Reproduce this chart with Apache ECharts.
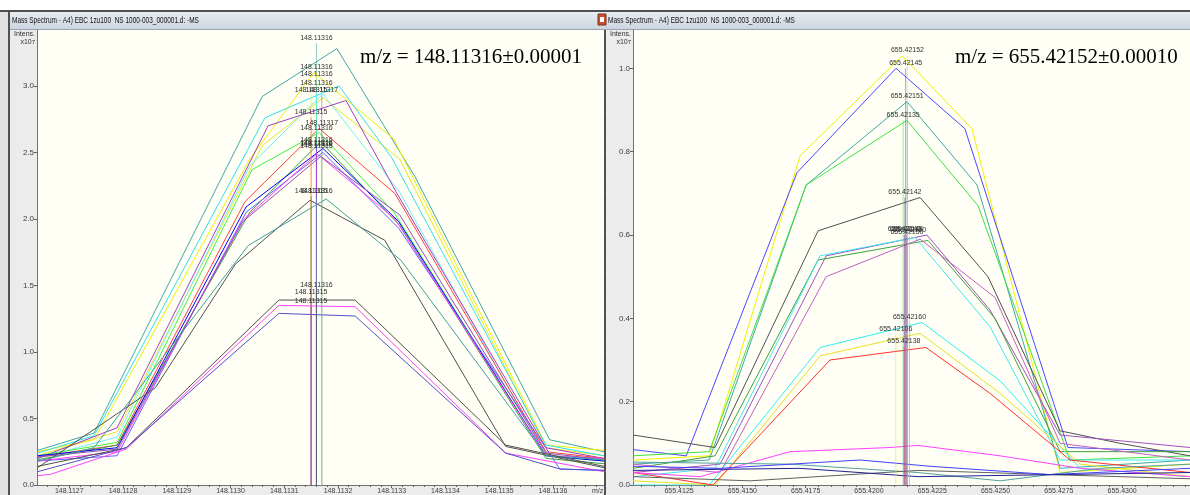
<!DOCTYPE html>
<html>
<head>
<meta charset="utf-8">
<script src="https://cdn.jsdelivr.net/npm/echarts@6/dist/echarts.min.js"></script>
<style>
html, body { margin: 0; padding: 0; background: #fff; }
#chart { width: 1190px; height: 495px; }
</style>
</head>
<body>
<div id="chart"></div>
<script>
// tick labels
const leftXTicks = [148.1127, 148.1128, 148.1129, 148.1130, 148.1131, 148.1132, 148.1133, 148.1134, 148.1135, 148.1136]
const leftYTicks = [0, 0.5, 1.0, 1.5, 2.0, 2.5, 3.0]
const rightXTicks = [655.4125, 655.4150, 655.4175, 655.4200, 655.4225, 655.4250, 655.4275, 655.4300]
const rightYTicks = [0, 0.2, 0.4, 0.6, 0.8, 1.0]

// left panel profiles, [m/z, intensity x10^7]
const lTeal = [[148.112641,0.26],[148.112746,0.39],[148.113059,2.92],[148.113198,3.28],[148.113343,2.32],[148.113594,0.34],[148.113695,0.25]]
const lYellow = [[148.112641,0.25],[148.112746,0.34],[148.113036,2.45],[148.113155,3.10],[148.113304,2.60],[148.113587,0.30],[148.113695,0.26]]
const lYellow2 = [[148.112641,0.22],[148.112789,0.40],[148.113059,2.55],[148.113172,2.91],[148.113315,2.45],[148.113587,0.28],[148.113695,0.22]]
const lCyan = [[148.112641,0.24],[148.112746,0.37],[148.113064,2.76],[148.113202,3.00],[148.113300,2.46],[148.113587,0.30],[148.113695,0.22]]
const lCyan2 = [[148.112641,0.20],[148.112789,0.36],[148.113036,2.40],[148.113172,2.94],[148.113315,2.20],[148.113587,0.22],[148.113695,0.20]]
const lPurple = [[148.112641,0.20],[148.112789,0.43],[148.113070,2.70],[148.113215,2.89],[148.113310,2.19],[148.113587,0.28],[148.113695,0.20]]
const lRed = [[148.112641,0.21],[148.112789,0.30],[148.113027,2.13],[148.113165,2.68],[148.113306,2.19],[148.113587,0.25],[148.113695,0.20]]
const lGreen = [[148.112641,0.22],[148.112789,0.32],[148.113040,2.37],[148.113165,2.65],[148.113304,2.05],[148.113587,0.22],[148.113695,0.18]]
const lOlive = [[148.112641,0.19],[148.112789,0.30],[148.113036,2.05],[148.113168,2.58],[148.113315,1.95],[148.113587,0.20],[148.113695,0.16]]
const lBlue = [[148.112641,0.22],[148.112789,0.28],[148.113029,2.09],[148.113172,2.53],[148.113313,1.98],[148.113587,0.22],[148.113695,0.18]]
const lBlue2 = [[148.112641,0.18],[148.112789,0.22],[148.113029,2.05],[148.113172,2.50],[148.113313,1.93],[148.113613,0.12],[148.113695,0.11]]
const lMagenta = [[148.112641,0.18],[148.112789,0.25],[148.113023,1.99],[148.113161,2.49],[148.113306,2.00],[148.113587,0.22],[148.113695,0.20]]
const lPurple2 = [[148.112641,0.21],[148.112789,0.27],[148.113023,1.98],[148.113168,2.47],[148.113315,2.03],[148.113587,0.24],[148.113695,0.19]]
const lGrey = [[148.112641,0.13],[148.112860,0.73],[148.113009,1.66],[148.113148,2.14],[148.113287,1.84],[148.113512,0.29],[148.113695,0.13]]
const lTeal2 = [[148.112641,0.18],[148.112746,0.28],[148.113033,1.80],[148.113178,2.15],[148.113317,1.69],[148.113587,0.22],[148.113695,0.19]]
const lGrey2 = [[148.112641,0.14],[148.112806,0.28],[148.113090,1.39],[148.113232,1.39],[148.113512,0.30],[148.113695,0.14]]
const lMagenta2 = [[148.112641,0.07],[148.112665,0.08],[148.112806,0.27],[148.113090,1.35],[148.113232,1.34],[148.113512,0.24],[148.113695,0.10]]
const lSlate = [[148.112641,0.10],[148.112806,0.28],[148.113090,1.29],[148.113232,1.27],[148.113512,0.24],[148.113613,0.12],[148.113695,0.11]]

// left centroids (one per profile)
const leftStickMz = [148.11316,148.11316,148.11315,148.11316,148.11316,148.11317,148.11315,148.11317,148.11316,148.11316,148.11316,148.11316,148.11316,148.11315,148.11316,148.11316,148.11315,148.11315]
const leftStickInt = [3.32,3.10,2.93,2.98,3.05,2.93,2.76,2.68,2.64,2.55,2.53,2.52,2.51,2.17,2.17,1.46,1.41,1.34]

// right panel profiles
const rYellow = [[655.41068,0.06],[655.41369,0.07],[655.41728,0.79],[655.42131,1.03],[655.42407,0.855],[655.42755,0.03],[655.43268,0.05]]
const rBlue = [[655.41068,0.085],[655.41278,0.07],[655.41716,0.75],[655.42107,1.00],[655.42379,0.855],[655.42786,0.09],[655.43268,0.08]]
const rTeal = [[655.41068,0.05],[655.41369,0.06],[655.41752,0.72],[655.42150,0.92],[655.42427,0.72],[655.42755,0.04],[655.43268,0.06]]
const rGreen = [[655.41068,0.07],[655.41369,0.08],[655.41752,0.72],[655.42150,0.875],[655.42431,0.67],[655.42794,0.06],[655.43268,0.07]]
const rGrey = [[655.41068,0.12],[655.41392,0.09],[655.41799,0.61],[655.42202,0.69],[655.42470,0.50],[655.42755,0.13],[655.42992,0.10],[655.43268,0.07]]
const rPurple = [[655.41068,0.03],[655.41412,0.05],[655.41831,0.55],[655.42229,0.60],[655.42478,0.42],[655.42755,0.12],[655.43268,0.09]]
const rOlive = [[655.41068,0.04],[655.41392,0.07],[655.41799,0.54],[655.42233,0.587],[655.42498,0.40],[655.42755,0.08],[655.43268,0.08]]
const rCyan = [[655.41068,0.02],[655.41392,0.04],[655.41807,0.55],[655.42182,0.594],[655.42478,0.38],[655.42755,0.06],[655.43268,0.06]]
const rViolet = [[655.41068,0.05],[655.41412,0.03],[655.41831,0.50],[655.42202,0.59],[655.42498,0.45],[655.42755,0.10],[655.43268,0.06]]
const rCyan2 = [[655.41068,0.0],[655.41369,0.0],[655.41807,0.33],[655.42210,0.39],[655.42518,0.25],[655.42834,0.04],[655.43268,0.02]]
const rYellow2 = [[655.41068,0.01],[655.41392,0.0],[655.41807,0.31],[655.42202,0.364],[655.42518,0.22],[655.42834,0.05],[655.43268,0.02]]
const rRed = [[655.41068,0.03],[655.41384,0.0],[655.41846,0.30],[655.42225,0.33],[655.42478,0.22],[655.42794,0.06],[655.43268,0.03]]
const rMagentaLow = [[655.41068,0.03],[655.41333,0.02],[655.41688,0.08],[655.42083,0.09],[655.42194,0.095],[655.42518,0.07],[655.42834,0.04],[655.43268,0.02]]
const rTealLow = [[655.41068,0.055],[655.41688,0.05],[655.42194,0.03],[655.42518,0.01],[655.42913,0.04],[655.43268,0.05]]
const rGreyLow = [[655.41068,0.02],[655.41530,0.01],[655.42194,0.035],[655.42715,0.025],[655.43268,0.015]]
const rBlueLow = [[655.41068,0.045],[655.41412,0.04],[655.41965,0.06],[655.42241,0.045],[655.42715,0.025],[655.43268,0.04]]
const rNavyLow = [[655.41068,0.035],[655.41728,0.04],[655.42194,0.02],[655.42755,0.025],[655.43268,0.03]]

// right centroids (first 12 profiles)
const rightStickMz = [655.42152,655.42145,655.42151,655.42135,655.42142,655.42140,655.42150,655.42160,655.42148,655.42160,655.42106,655.42138]
const rightStickInt = [1.03,1.00,0.92,0.875,0.69,0.60,0.595,0.598,0.60,0.39,0.362,0.332]

const leftProfiles = [lTeal,lYellow,lYellow2,lCyan,lCyan2,lPurple,lRed,lGreen,lOlive,lBlue,lBlue2,lMagenta,lPurple2,lGrey,lTeal2,lGrey2,lMagenta2,lSlate]
const leftColors = ['#3fa6a6','#f0f000','#e6e62a','#30e0f0','#70f0f8','#a040c0','#ff4040','#40f040','#40a040','#0000ff','#6060ff','#ff40ff','#9050b0','#505050','#40a0a0','#505050','#ff40ff','#5050c8']
const rightProfiles = [rYellow,rBlue,rTeal,rGreen,rGrey,rPurple,rOlive,rCyan,rViolet,rCyan2,rYellow2,rRed,rMagentaLow,rTealLow,rGreyLow,rBlueLow,rNavyLow]
const rightColors = ['#f0f000','#4848ff','#40a8a8','#40e040','#505050','#a050c0','#40a040','#40e8f0','#c060c0','#30f0f0','#e8e020','#ff3030','#ff40ff','#50a0a0','#606060','#4040ff','#202090']

const FONT = 'Liberation Sans, Arial, sans-serif'

function minorTicks(major, step, lo, hi) {
  let out = []
  let start = major[0] - step * Math.floor((major[0] - lo) / step)
  for (let v = start; v <= hi + 1e-12; v += step) out.push(+v.toFixed(7))
  return out
}

function xAxes(grid, min, max, ticks, minorStep, digits) {
  return [{
    gridIndex: grid, type: 'value', min: min, max: max, position: 'bottom',
    axisLine: {show: true, lineStyle: {color: '#707070', width: 1}},
    axisTick: {show: true, customValues: ticks, length: 3, lineStyle: {color: '#606060'}},
    axisLabel: {show: true, customValues: ticks, formatter: v => v.toFixed(digits), fontSize: 7, color: '#404040', margin: 3, fontFamily: FONT},
    splitLine: {show: false}
  }, {
    gridIndex: grid, type: 'value', min: min, max: max, position: 'bottom',
    axisLine: {show: false},
    axisTick: {show: true, customValues: minorTicks(ticks, minorStep, min, max), length: 2, lineStyle: {color: '#606060'}},
    axisLabel: {show: false}, splitLine: {show: false}
  }]
}

function yAxes(grid, max, ticks, minorStep) {
  return [{
    gridIndex: grid, type: 'value', min: 0, max: max,
    axisLine: {show: true, lineStyle: {color: '#707070', width: 1}},
    axisTick: {show: true, customValues: ticks, length: 3, lineStyle: {color: '#606060'}},
    axisLabel: {show: true, customValues: ticks, formatter: v => v.toFixed(1), fontSize: 8, color: '#404040', margin: 3, fontFamily: FONT},
    splitLine: {show: false}
  }, {
    gridIndex: grid, type: 'value', min: 0, max: max,
    axisLine: {show: false},
    axisTick: {show: true, customValues: minorTicks(ticks, minorStep, 0, max), length: 2, lineStyle: {color: '#606060'}},
    axisLabel: {show: false}, splitLine: {show: false}
  }]
}

let series = []
function addPanel(profiles, colors, stickMz, stickInt, xi, yi) {
  profiles.forEach((d, i) => {
    series.push({
      type: 'line', xAxisIndex: xi, yAxisIndex: yi, data: d, symbol: 'none',
      lineStyle: {width: 1, color: colors[i]}, itemStyle: {color: colors[i]},
      silent: true, z: 2
    })
  })
  stickMz.forEach((mz, i) => {
    series.push({
      type: 'line', xAxisIndex: xi, yAxisIndex: yi, symbol: 'circle', symbolSize: 0,
      showSymbol: true,
      data: [[mz, 0], {value: [mz, stickInt[i]], label: {
        show: true, position: 'top', distance: 2, formatter: mz.toFixed(5),
        fontSize: 7, color: '#303030', fontFamily: FONT
      }}],
      lineStyle: {width: 1, color: colors[i], opacity: 0.55}, itemStyle: {color: colors[i]},
      silent: true, z: 3
    })
  })
}
addPanel(leftProfiles, leftColors, leftStickMz, leftStickInt, 0, 0)
addPanel(rightProfiles, rightColors, rightStickMz, rightStickInt, 2, 2)

const titleText = 'Mass Spectrum - A4) EBC 1zu100  NS 1000-003_000001.d: -MS'
const barFill = new echarts.graphic.LinearGradient(0, 0, 0, 1, [
  {offset: 0, color: '#e9edf2'}, {offset: 1, color: '#cdd5df'}
])

const graphic = [
  {type: 'rect', shape: {x: 0, y: 0, width: 1190, height: 11}, style: {fill: '#ffffff'}},
  {type: 'rect', shape: {x: 0, y: 11, width: 8, height: 484}, style: {fill: '#e2e2e2'}},
  {type: 'rect', shape: {x: 0, y: 10, width: 1190, height: 2}, style: {fill: '#505050'}},
  {type: 'rect', shape: {x: 10, y: 12, width: 587, height: 17}, style: {fill: barFill}},
  {type: 'rect', shape: {x: 597, y: 12, width: 593, height: 17}, style: {fill: barFill}},
  {type: 'rect', shape: {x: 8, y: 12, width: 2, height: 483}, style: {fill: '#505050'}},
  {type: 'rect', shape: {x: 604, y: 29, width: 2, height: 466}, style: {fill: '#505050'}},
  {type: 'rect', shape: {x: 10, y: 29, width: 1180, height: 1}, style: {fill: '#9aa4b0'}},
  {type: 'rect', shape: {x: 598, y: 14, width: 8, height: 11}, style: {fill: '#c85030', stroke: '#803020', lineWidth: 1}},
  {type: 'rect', shape: {x: 600, y: 17, width: 4, height: 5}, style: {fill: '#ffffff'}},
  {type: 'text', x: 12, y: 21, scaleX: 0.72, style: {text: titleText, fontSize: 9, fill: '#101010', fontFamily: FONT, verticalAlign: 'middle'}},
  {type: 'text', x: 608, y: 21, scaleX: 0.72, style: {text: titleText, fontSize: 9, fill: '#101010', fontFamily: FONT, verticalAlign: 'middle'}},
  {type: 'text', x: 35, y: 31, style: {text: 'Intens.', fontSize: 7, fill: '#303030', align: 'right', fontFamily: FONT}},
  {type: 'text', x: 35, y: 39, style: {text: '{a|x10}{b|7}', align: 'right', rich: {a: {fontSize: 7, fill: '#303030', fontFamily: FONT}, b: {fontSize: 6, fill: '#303030', verticalAlign: 'top', fontFamily: FONT}}}},
  {type: 'text', x: 631, y: 31, style: {text: 'Intens.', fontSize: 7, fill: '#303030', align: 'right', fontFamily: FONT}},
  {type: 'text', x: 631, y: 39, style: {text: '{a|x10}{b|7}', align: 'right', rich: {a: {fontSize: 7, fill: '#303030', fontFamily: FONT}, b: {fontSize: 6, fill: '#303030', verticalAlign: 'top', fontFamily: FONT}}}},
  {type: 'text', x: 592, y: 488, style: {text: 'm/z', fontSize: 7, fill: '#404040', fontFamily: FONT}},
  {type: 'text', x: 360, y: 47, z: 100, style: {text: 'm/z = 148.11316\u00b10.00001', fontSize: 21, fill: '#000', fontFamily: 'Liberation Serif, Times New Roman, serif'}},
  {type: 'text', x: 955, y: 47, z: 100, style: {text: 'm/z = 655.42152\u00b10.00010', fontSize: 21, fill: '#000', fontFamily: 'Liberation Serif, Times New Roman, serif'}}
]

const option = {
  backgroundColor: '#ececec',
  animation: false,
  grid: [
    {left: 37, top: 30, width: 567, height: 455, show: true, backgroundColor: '#fffff6', borderWidth: 0},
    {left: 633, top: 30, width: 557, height: 455, show: true, backgroundColor: '#fffff6', borderWidth: 0}
  ],
  xAxis: [
    ...xAxes(0, 148.11264, 148.113695, leftXTicks, 0.00002, 4),
    ...xAxes(1, 655.41068, 655.43268, rightXTicks, 0.0005, 4)
  ],
  yAxis: [
    ...yAxes(0, 3.42, leftYTicks, 0.1),
    ...yAxes(1, 1.092, rightYTicks, 0.1)
  ],
  graphic: graphic,
  series: series
}

let chart = echarts.init(document.getElementById('chart'), null, {renderer: 'canvas'})
chart.setOption(option)
</script>
</body>
</html>
